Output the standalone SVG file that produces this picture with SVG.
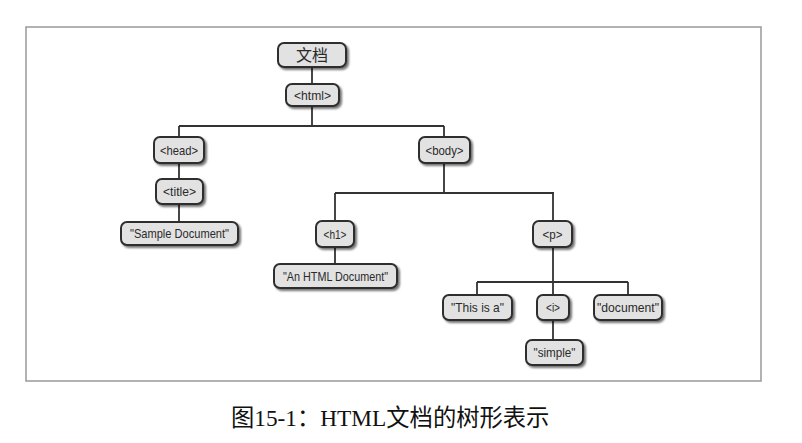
<svg xmlns="http://www.w3.org/2000/svg" width="802" height="443" viewBox="0 0 802 443">
<defs>
<filter id="sh" x="-20%" y="-30%" width="150%" height="180%">
<feGaussianBlur in="SourceAlpha" stdDeviation="1.2"/>
<feOffset dx="2" dy="2" result="b"/>
<feComponentTransfer><feFuncA type="linear" slope="0.55"/></feComponentTransfer>
<feMerge><feMergeNode/><feMergeNode in="SourceGraphic"/></feMerge>
</filter>
</defs>
<style>
.box{fill:#e2e2e2;stroke:#2e2e2e;stroke-width:2;filter:url(#sh)}
.t{font-family:"Liberation Sans","Noto Sans CJK SC",sans-serif;font-size:13px;fill:#2a2a2a;text-anchor:middle;dominant-baseline:central}
.cn{font-size:16px}
.ln{stroke:#333;stroke-width:1.8;fill:none}
.cap{font-family:"Liberation Serif","Noto Sans CJK SC",serif;font-size:23.3px;fill:#111}
</style>
<rect x="26" y="27" width="735" height="354" fill="#fff" stroke="#999" stroke-width="1.5"/>
<g id="connectors">
<path class="ln" d="M312 67V84M312 106V126M179 126H444M179 126V137M444 126V137"/>
<path class="ln" d="M179 163V179M179 204V222"/>
<path class="ln" d="M444 163V193M335 193H554M335 193V221M553 193V221"/>
<path class="ln" d="M335 247V264"/>
<path class="ln" d="M553 247V282M477 282H628M477 282V295M553 282V295M628 282V295"/>
<path class="ln" d="M553 320V340"/>
</g>
<g id="n-doc"><rect class="box" x="278" y="43" width="68" height="24" rx="6"/><text class="t cn" x="312" y="55">文档</text></g>
<g id="n-html"><rect class="box" x="286" y="84" width="53" height="22" rx="6"/><text class="t" x="312.5" y="95" textLength="37" lengthAdjust="spacingAndGlyphs">&lt;html&gt;</text></g>
<g id="n-head"><rect class="box" x="154" y="137" width="50" height="26" rx="6"/><text class="t" x="179" y="150" textLength="38" lengthAdjust="spacingAndGlyphs">&lt;head&gt;</text></g>
<g id="n-body"><rect class="box" x="419" y="137" width="51" height="26" rx="6"/><text class="t" x="444.5" y="150" textLength="38" lengthAdjust="spacingAndGlyphs">&lt;body&gt;</text></g>
<g id="n-title"><rect class="box" x="156" y="179" width="47" height="25" rx="6"/><text class="t" x="179.5" y="191.5" textLength="33" lengthAdjust="spacingAndGlyphs">&lt;title&gt;</text></g>
<g id="n-sample"><rect class="box" x="121" y="222" width="117" height="23" rx="6"/><text class="t" x="179.5" y="233.5" textLength="99" lengthAdjust="spacingAndGlyphs">"Sample Document"</text></g>
<g id="n-h1"><rect class="box" x="316" y="221" width="38" height="26" rx="6"/><text class="t" x="335" y="234" textLength="23" lengthAdjust="spacingAndGlyphs">&lt;h1&gt;</text></g>
<g id="n-p"><rect class="box" x="533" y="221" width="39" height="26" rx="6"/><text class="t" x="552.5" y="234" textLength="20" lengthAdjust="spacingAndGlyphs">&lt;p&gt;</text></g>
<g id="n-anhtml"><rect class="box" x="274" y="264" width="123" height="24" rx="6"/><text class="t" x="335.5" y="276" textLength="105" lengthAdjust="spacingAndGlyphs">"An HTML Document"</text></g>
<g id="n-thisisa"><rect class="box" x="443" y="295" width="69" height="25" rx="6"/><text class="t" x="477.5" y="307.5" textLength="53" lengthAdjust="spacingAndGlyphs">"This is a"</text></g>
<g id="n-i"><rect class="box" x="537" y="295" width="32" height="25" rx="6"/><text class="t" x="553" y="307.5" textLength="14" lengthAdjust="spacingAndGlyphs">&lt;i&gt;</text></g>
<g id="n-document"><rect class="box" x="594" y="295" width="68" height="25" rx="6"/><text class="t" x="628" y="307.5" textLength="62" lengthAdjust="spacingAndGlyphs">"document"</text></g>
<g id="n-simple"><rect class="box" x="526" y="340" width="57" height="25" rx="6"/><text class="t" x="554.5" y="352.5" textLength="42" lengthAdjust="spacingAndGlyphs">"simple"</text></g>
<text class="cap" x="231" y="426">图15-1：HTML文档的树形表示</text>
</svg>
